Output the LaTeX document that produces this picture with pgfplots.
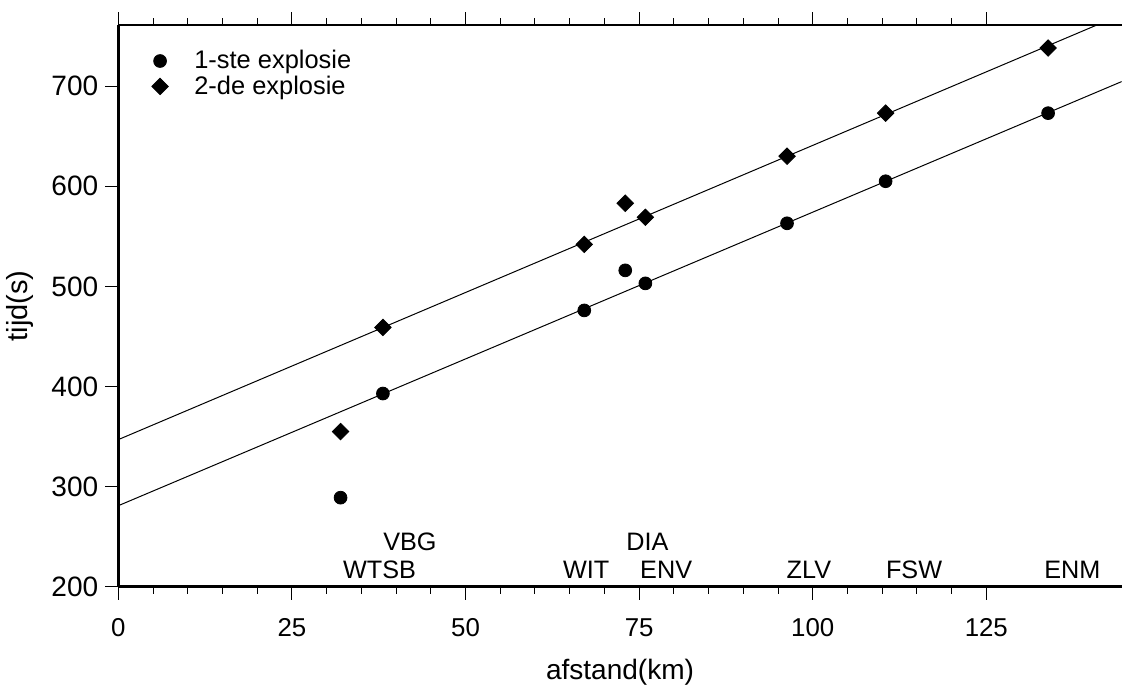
\documentclass[border=0pt]{standalone}
\usepackage{fontspec}
\setmainfont{Liberation Sans}
\usepackage{pgfplots}
\pgfplotsset{compat=1.18}

\begin{document}
\begin{tikzpicture}
\begin{axis}[
    scale only axis,
    width=501pt, height=280.5pt,
    xmin=0, xmax=144.5, ymin=200, ymax=761,
    axis x line=box, axis y line=left,
    axis line style={-, line width=1.3pt},
    xtick pos=both, xticklabel pos=lower,
    xtick={0,25,...,125}, minor x tick num=4,
    ytick={200,300,...,700},
    tick align=outside,
    major tick length=6.5pt, minor tick length=3.5pt,
    every tick/.style={black, line width=0.5pt},
    /pgf/number format/assume math mode=true,
    xticklabel style={font=\fontsize{12.9}{14}\selectfont, yshift=-6pt},
    yticklabel style={font=\fontsize{14}{16}\selectfont},
    xlabel={afstand(km)}, ylabel={tijd(s)},
    xlabel style={font=\fontsize{14}{15}\selectfont, yshift=-4pt},
    ylabel style={font=\fontsize{14.5}{16}\selectfont, yshift=2pt},
    legend style={draw=none, fill=none, at={(0.027,0.97)}, anchor=north west,
        font=\fontsize{12.7}{14}\selectfont, column sep=11pt, row sep=-2pt},
    legend cell align=left,
]
\addplot[black, line width=0.5pt, forget plot] coordinates {(0,281) (145,706)};
\addplot[black, line width=0.5pt, forget plot] coordinates {(0,347) (145,773)};
\addplot[only marks, mark=*, mark size=3.2pt, black] coordinates {
    (32,289) (38.1,393) (67.1,476) (73,516) (75.9,503)
    (96.3,563) (110.5,605) (133.9,673)
};
\addplot[only marks, mark=square*, mark size=2.9pt, black, mark options={rotate=45}] coordinates {
    (32,355) (38.1,459) (67.1,542) (73,583) (75.9,569)
    (96.3,630) (110.5,673) (133.9,738)
};
\legend{1-ste explosie, 2-de explosie}
\begin{scope}[every node/.style={anchor=base west, inner sep=0pt, font=\fontsize{12.6}{14}\selectfont}]
\node at (axis cs:32.3,208) {WTSB};
\node at (axis cs:38.1,236) {VBG};
\node at (axis cs:64.0,208) {WIT};
\node at (axis cs:73.1,236) {DIA};
\node at (axis cs:75.1,208) {ENV};
\node at (axis cs:96.2,208) {ZLV};
\node at (axis cs:110.5,208) {FSW};
\node at (axis cs:133.3,208) {ENM};
\end{scope}
\coordinate (tp) at (rel axis cs:0,1);
\end{axis}
\path (tp) ++(0,12.5pt);
\end{tikzpicture}
\end{document}
